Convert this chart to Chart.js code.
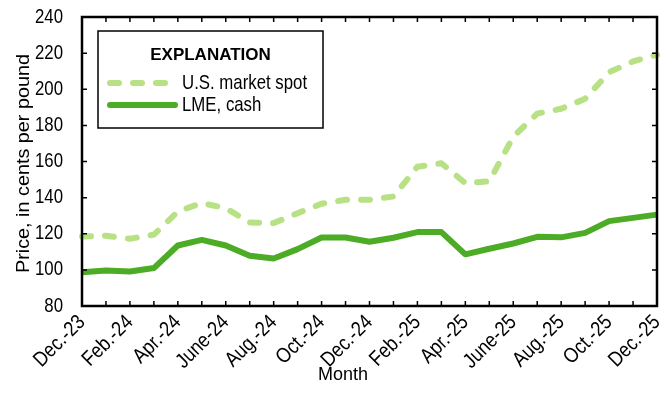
<!DOCTYPE html>
<html>
<head>
<meta charset="utf-8">
<script src="https://cdn.jsdelivr.net/npm/chart.js@4/dist/chart.umd.min.js"></script>
<style>
  html, body { margin: 0; padding: 0; background: #fff; }
  #wrap { width: 672px; height: 411px; }
</style>
</head>
<body>
<div id="wrap"><canvas id="myChart" width="672" height="411"></canvas></div>
<script>
// Meses (todos), só os pares aparecem no eixo
var months = ['Dec.-23', 'Jan.-24', 'Feb.-24', 'Mar.-24', 'Apr.-24', 'May-24', 'June-24', 'July-24', 'Aug.-24',
    'Sept.-24', 'Oct.-24', 'Nov.-24', 'Dec.-24', 'Jan.-25', 'Feb.-25', 'Mar.-25', 'Apr.-25', 'May-25',
    'June-25', 'July-25', 'Aug.-25', 'Sept.-25', 'Oct.-25', 'Nov.-25', 'Dec.-25'];

// Preços, em centavos por libra
var usSpot = [118.5, 118.9, 117.2, 119.5, 132.3, 137, 134.2, 126.2, 125.9, 131.4, 136.6, 138.8,
    138.8, 140.6, 157.1, 159, 148, 149, 173.7, 186.5, 189.2, 194.7, 209.4, 215.4, 219.1];
var lmeCash = [98.7, 99.6, 99.1, 101, 113.5, 116.6, 113.5, 107.8, 106.3, 111.5, 117.9, 117.9,
    115.6, 117.8, 120.9, 120.9, 108.6, 111.7, 114.6, 118.3, 118, 120.5, 127, 128.8, 130.6];

var yTicks = [80, 100, 120, 140, 160, 180, 200, 220, 240];

var FONT = '"Liberation Sans", Arial, sans-serif';
Chart.defaults.font.family = FONT;
Chart.defaults.color = '#000';

// texto com escala horizontal (imita fonte condensada)
function drawText(ctx, text, x, y, rot, sx, align, font) {
    ctx.save();
    ctx.translate(x, y);
    ctx.rotate(rot);
    ctx.scale(sx, 1);
    ctx.font = font;
    ctx.textAlign = align;
    ctx.textBaseline = 'middle';
    ctx.fillText(text, 0, 0);
    ctx.restore();
}

// Moldura, marcas internas, rótulos, legenda e títulos
var framePlugin = {
    id: 'frame',
    afterDraw: function (chart) {
        var ctx = chart.ctx;
        var a = chart.chartArea;
        var xs = chart.scales.x, ys = chart.scales.y;
        ctx.save();
        ctx.strokeStyle = '#000';
        ctx.fillStyle = '#000';
        ctx.lineWidth = 1.5;
        months.forEach(function (m, i) {
            var px = xs.getPixelForValue(i);
            ctx.beginPath();
            ctx.moveTo(px, a.bottom); ctx.lineTo(px, a.bottom - 5);
            ctx.moveTo(px, a.top); ctx.lineTo(px, a.top + 5);
            ctx.stroke();
            if (i % 2 === 0) {
                drawText(ctx, m, px, a.bottom + 13, -Math.PI / 4, 0.86, 'right', '21px ' + FONT);
            }
        });
        yTicks.forEach(function (v) {
            var py = ys.getPixelForValue(v);
            ctx.beginPath();
            ctx.moveTo(a.left, py); ctx.lineTo(a.left + 5, py);
            ctx.moveTo(a.right, py); ctx.lineTo(a.right - 5, py);
            ctx.stroke();
            drawText(ctx, String(v), a.left - 19, py, 0, 0.84, 'right', '20px ' + FONT);
        });
        ctx.lineWidth = 2.5;
        ctx.strokeRect(a.left, a.top, a.right - a.left, a.bottom - a.top);

        // títulos dos eixos
        drawText(ctx, 'Price, in cents per pound', 24, (a.top + a.bottom) / 2 + 2, -Math.PI / 2, 1.1, 'center', '18px ' + FONT);
        drawText(ctx, 'Month', 343, 375, 0, 1, 'center', '18px ' + FONT);

        // legenda
        var bx = a.left + 16, by = a.top + 14, bw = 225, bh = 97;
        ctx.fillStyle = '#fff';
        ctx.fillRect(bx, by, bw, bh);
        ctx.lineWidth = 1.5;
        ctx.strokeRect(bx, by, bw, bh);
        ctx.fillStyle = '#000';
        drawText(ctx, 'EXPLANATION', bx + bw / 2, by + 24, 0, 1, 'center', 'bold 17px ' + FONT);
        chart.data.datasets.forEach(function (ds, i) {
            var ly = by + 52 + i * 22;
            ctx.beginPath();
            ctx.strokeStyle = ds.borderColor;
            ctx.lineWidth = ds.borderWidth;
            ctx.lineCap = 'round';
            ctx.setLineDash(ds.borderDash || []);
            ctx.moveTo(bx + 12, ly);
            ctx.lineTo(bx + 77, ly);
            ctx.stroke();
            ctx.setLineDash([]);
            drawText(ctx, ds.label, bx + 84, ly, 0, 0.8, 'left', '21px ' + FONT);
        });
        ctx.restore();
    }
};

var ctx = document.getElementById('myChart').getContext('2d');
var myChart = new Chart(ctx, {
    type: 'line',
    data: {
        labels: months,
        datasets: [{
            label: 'U.S. market spot',
            data: usSpot,
            borderColor: '#b8e186',
            borderWidth: 6,
            borderDash: [9, 14],
            borderCapStyle: 'round',
            borderJoinStyle: 'round',
            pointRadius: 0,
            tension: 0,
            fill: false
        }, {
            label: 'LME, cash',
            data: lmeCash,
            borderColor: '#4dac26',
            borderWidth: 6,
            borderCapStyle: 'butt',
            borderJoinStyle: 'round',
            pointRadius: 0,
            tension: 0,
            fill: false
        }]
    },
    options: {
        responsive: false,
        animation: false,
        layout: { padding: { left: 0, right: 15, top: 17, bottom: 0 } },
        plugins: {
            legend: { display: false },
            tooltip: { enabled: false }
        },
        scales: {
            x: {
                offset: false,
                grid: { display: false, drawTicks: false },
                border: { display: false },
                ticks: { display: false, autoSkip: false },
                afterFit: function (scale) { scale.height = 105; }
            },
            y: {
                min: 80,
                max: 240,
                grid: { display: false, drawTicks: false },
                border: { display: false },
                ticks: { display: false, stepSize: 20 },
                afterFit: function (scale) { scale.width = 82; }
            }
        }
    },
    plugins: [framePlugin]
});
</script>
</body>
</html>
